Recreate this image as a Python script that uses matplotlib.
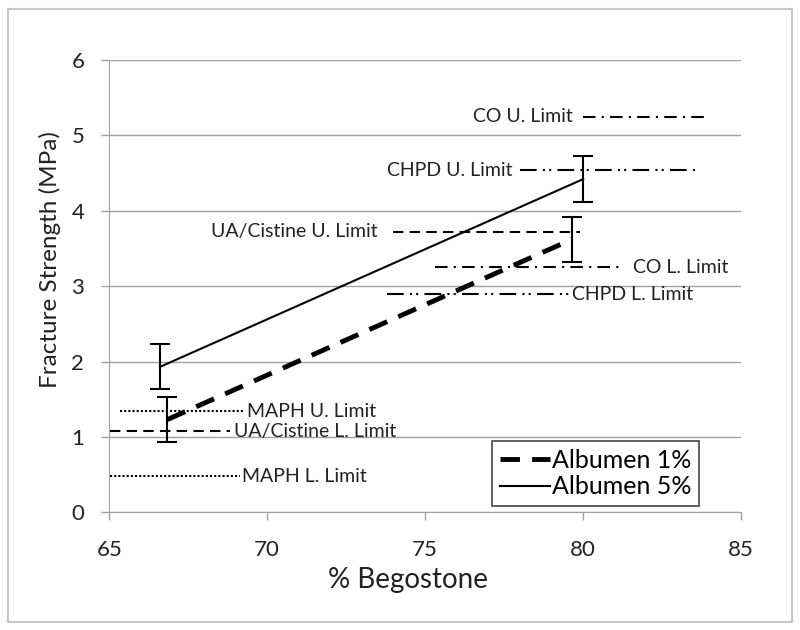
import matplotlib.pyplot as plt
from matplotlib.patches import Rectangle

plt.rcParams['font.family'] = ['Lato', 'DejaVu Sans']

# Albumen series (x = % Begostone, y = fracture strength, yerr)
x_alb1 = [66.84, 79.65]
y_alb1 = [1.23, 3.62]
err_alb1 = [0.30, 0.30]
x_alb5 = [66.61, 80.01]
y_alb5 = [1.93, 4.42]
err_alb5 = [0.30, 0.30]

# Stone limits
limit_names = ['CO U. Limit', 'CHPD U. Limit', 'UA/Cistine U. Limit', 'CO L. Limit',
               'CHPD L. Limit', 'MAPH U. Limit', 'UA/Cistine L. Limit', 'MAPH L. Limit']
limit_y = [5.25, 4.54, 3.72, 3.25, 2.895, 1.34, 1.075, 0.478]
limit_x0 = [80.0, 78.0, 73.99, 75.32, 73.79, 65.34, 65.02, 65.02]
limit_x1 = [84.03, 83.55, 79.91, 81.27, 79.59, 69.3, 68.82, 69.14]
limit_text_x = [79.69, 77.76, 73.51, 81.59, 79.65, 69.35, 68.95, 69.19]
limit_text_ha = ['right', 'right', 'right', 'left', 'left', 'left', 'left', 'left']
limit_styles = [(0, (6, 3, 1, 3)), (0, (8, 3, 1, 2, 1, 3)), (0, (5, 3)), (0, (6, 3, 1, 3)),
                (0, (8, 3, 1, 2, 1, 3)), (0, (1, 1)), (0, (5, 3)), (0, (1, 1))]

fig = plt.figure(figsize=(8, 6.3), dpi=100)
ax = fig.add_axes([109.3/800, 1 - 512.3/630, 631.4/800, 452.3/630])

fig.patches.append(Rectangle((8/800, 8/630), 784/800, 613/630, transform=fig.transFigure,
                             fill=False, edgecolor='#c8c8c8', linewidth=1.5))

for name, y, x0, x1, tx, ha, ls in zip(limit_names, limit_y, limit_x0, limit_x1,
                                        limit_text_x, limit_text_ha, limit_styles):
    ax.plot([x0, x1], [y, y], color='black', linewidth=1.5, linestyle=ls)
    ax.text(tx, y, name, ha=ha, va='center', fontsize=14, color='#222222')

ax.plot(x_alb1, y_alb1, color='black', linewidth=3.5, linestyle=(0, (4, 2.5)), label='Albumen 1%')
ax.errorbar(x_alb1, y_alb1, yerr=err_alb1, fmt='none', ecolor='black', elinewidth=1.5, capsize=7, capthick=1.5)
ax.plot(x_alb5, y_alb5, color='black', linewidth=1.5, label='Albumen 5%')
ax.errorbar(x_alb5, y_alb5, yerr=err_alb5, fmt='none', ecolor='black', elinewidth=1.5, capsize=7, capthick=1.5)

ax.set_xlim(65, 85)
ax.set_ylim(0, 6)
ax.set_xticks([65, 70, 75, 80, 85])
ax.set_yticks([0, 1, 2, 3, 4, 5, 6])
ax.yaxis.grid(True, color='#a0a0a0', linewidth=1)
ax.set_axisbelow(True)
for s in ['top', 'right']:
    ax.spines[s].set_visible(False)
for s in ['left', 'bottom']:
    ax.spines[s].set_color('#a0a0a0')
ax.tick_params(axis='both', colors='#a0a0a0', labelcolor='#222222', labelsize=16, length=6, width=1)
ax.tick_params(axis='x', pad=14)
ax.tick_params(axis='y', pad=12)

fig.text(408/800, 1 - 580/630, '% Begostone', fontsize=20, color='#222222', ha='center', va='center')
fig.text(50/800, 1 - 260/630, 'Fracture Strength (MPa)', fontsize=17.5, color='#222222',
         ha='center', va='center', rotation=90)

leg = ax.legend(loc='lower right', bbox_to_anchor=(0.934, 0.014), borderaxespad=0, fontsize=18,
                handlelength=2.0, handletextpad=0.1, borderpad=0.3, labelspacing=0.15,
                fancybox=False, framealpha=1)
leg.get_frame().set_edgecolor('#444444')
leg.get_frame().set_linewidth(1.2)

fig.savefig('out.png', dpi=100)
